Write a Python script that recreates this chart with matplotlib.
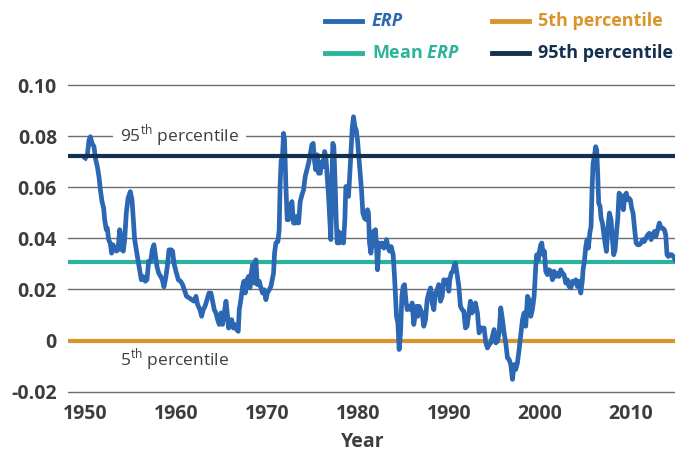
import matplotlib
matplotlib.use("Agg")
import matplotlib.pyplot as plt
from matplotlib.lines import Line2D

# ERP series (x in years, y as a fraction)
years = [
    1950.04, 1950.26, 1950.44, 1950.59, 1950.77, 1950.99, 1951.14, 1951.36, 1951.54, 1951.69,
    1951.87, 1952.05, 1952.16, 1952.34, 1952.45, 1952.60, 1952.78, 1952.93, 1953.08, 1953.26,
    1953.44, 1953.63, 1953.81, 1953.92, 1954.07, 1954.21, 1954.36, 1954.54, 1954.73, 1954.98,
    1955.17, 1955.31, 1955.46, 1955.64, 1955.82, 1956.01, 1956.19, 1956.37, 1956.63, 1956.81,
    1957.00, 1957.22, 1957.40, 1957.58, 1957.73, 1957.91, 1958.10, 1958.32, 1958.50, 1958.68,
    1958.87, 1959.05, 1959.23, 1959.49,
    1959.63, 1959.78, 1960.00, 1960.26, 1960.51, 1960.73, 1960.92, 1961.17, 1961.47, 1961.72,
    1961.98, 1962.20, 1962.38, 1962.64, 1962.82, 1963.00, 1963.19, 1963.37, 1963.63, 1963.85,
    1964.03, 1964.21, 1964.40, 1964.58, 1964.76, 1964.95, 1965.13, 1965.31, 1965.50, 1965.64,
    1965.79, 1965.93, 1966.12, 1966.30, 1966.48, 1966.67, 1966.85, 1966.96, 1967.14, 1967.33,
    1967.47, 1967.62, 1967.80, 1967.99, 1968.13, 1968.28, 1968.43, 1968.57, 1968.72, 1968.79,
    1968.94, 1969.16, 1969.34, 1969.52, 1969.71, 1969.89, 1970.04, 1970.26, 1970.44,
    1970.73, 1970.84, 1970.99, 1971.21, 1971.35, 1971.46, 1971.57, 1971.68, 1971.83, 1971.94,
    1972.09, 1972.23, 1972.38, 1972.56, 1972.75, 1972.93, 1973.11, 1973.30, 1973.48, 1973.66,
    1973.85, 1974.03, 1974.21, 1974.40, 1974.58, 1974.76, 1974.94, 1975.09, 1975.24, 1975.38,
    1975.53, 1975.68, 1975.86, 1976.04, 1976.19, 1976.34, 1976.48, 1976.63, 1976.78, 1976.92,
    1977.03, 1977.14, 1977.25, 1977.36, 1977.51, 1977.62, 1977.73, 1977.88, 1977.99, 1978.13,
    1978.28, 1978.42, 1978.57, 1978.68, 1978.83, 1978.97, 1979.12, 1979.27, 1979.38, 1979.52,
    1979.67, 1979.82, 1979.96, 1980.11, 1980.26, 1980.40, 1980.55, 1980.73, 1980.92, 1981.06,
    1981.17, 1981.28, 1981.43, 1981.58, 1981.72,
    1981.94, 1982.05, 1982.16, 1982.31, 1982.49, 1982.67, 1982.86, 1983.04, 1983.15, 1983.30,
    1983.48, 1983.66, 1983.88, 1984.03, 1984.14, 1984.25, 1984.40, 1984.54, 1984.69, 1984.84,
    1984.98, 1985.13, 1985.27, 1985.42, 1985.60, 1985.79, 1985.97, 1986.15, 1986.34, 1986.45,
    1986.59, 1986.74, 1986.89, 1987.07, 1987.25, 1987.44, 1987.62, 1987.80, 1987.99, 1988.17,
    1988.35, 1988.53, 1988.72, 1988.90, 1989.08, 1989.27, 1989.45, 1989.63, 1989.82, 1990.00,
    1990.11, 1990.26, 1990.44, 1990.62, 1990.73, 1990.92, 1991.10, 1991.28, 1991.47, 1991.65,
    1991.83, 1992.01, 1992.20, 1992.38, 1992.56, 1992.75, 1992.93,
    1993.15, 1993.33, 1993.52, 1993.70, 1993.88, 1994.07, 1994.25, 1994.43, 1994.62, 1994.80,
    1994.98, 1995.17, 1995.35, 1995.53, 1995.71, 1995.90, 1996.08, 1996.26, 1996.45, 1996.63,
    1996.81, 1997.00, 1997.18, 1997.36, 1997.55, 1997.73, 1997.91, 1998.10, 1998.28, 1998.46,
    1998.65, 1998.83, 1999.01, 1999.19, 1999.38, 1999.56, 1999.67, 1999.82, 1999.93, 2000.11,
    2000.22, 2000.37, 2000.51, 2000.66, 2000.84, 2001.03, 2001.21, 2001.39, 2001.58, 2001.76,
    2001.94, 2002.13, 2002.31, 2002.49, 2002.67, 2002.86, 2003.04, 2003.22, 2003.41, 2003.59,
    2003.77, 2003.96, 2004.14, 2004.32, 2004.51, 2004.69,
    2004.76, 2004.91, 2005.06, 2005.20, 2005.35, 2005.50, 2005.64, 2005.75, 2005.86, 2006.01,
    2006.15, 2006.26, 2006.37, 2006.48, 2006.63, 2006.74, 2006.89, 2007.03, 2007.18, 2007.33,
    2007.47, 2007.66, 2007.84, 2007.99, 2008.13, 2008.28, 2008.43, 2008.57, 2008.72, 2008.87,
    2009.01, 2009.19, 2009.38, 2009.52, 2009.67, 2009.82, 2009.96, 2010.11, 2010.26, 2010.40,
    2010.59, 2010.77, 2010.95, 2011.14, 2011.32, 2011.50, 2011.69, 2011.87, 2012.05, 2012.24,
    2012.42, 2012.60, 2012.78, 2012.97, 2013.15, 2013.33, 2013.52, 2013.70, 2013.85, 2013.99,
    2014.14, 2014.32, 2014.51, 2014.69, 2014.87,
]
erp = [
    0.0714, 0.0727, 0.0785, 0.0798, 0.0772, 0.0759, 0.0714, 0.0680, 0.0640, 0.0590,
    0.0544, 0.0518, 0.0473, 0.0434, 0.0440, 0.0395, 0.0380, 0.0342, 0.0375, 0.0362,
    0.0350, 0.0355, 0.0434, 0.0414, 0.0355, 0.0350, 0.0395, 0.0499, 0.0557, 0.0583,
    0.0550, 0.0473, 0.0395, 0.0355, 0.0316, 0.0277, 0.0238, 0.0251, 0.0232, 0.0238,
    0.0310, 0.0310, 0.0355, 0.0375, 0.0336, 0.0290, 0.0264, 0.0251, 0.0238, 0.0210,
    0.0245, 0.0290, 0.0355, 0.0355,
    0.0350, 0.0303, 0.0271, 0.0238, 0.0232, 0.0219, 0.0199, 0.0173, 0.0167, 0.0160,
    0.0154, 0.0173, 0.0141, 0.0121, 0.0095, 0.0121, 0.0134, 0.0154, 0.0186, 0.0186,
    0.0154, 0.0121, 0.0108, 0.0082, 0.0063, 0.0108, 0.0063, 0.0108, 0.0154, 0.0108,
    0.0049, 0.0076, 0.0082, 0.0049, 0.0063, 0.0043, 0.0036, 0.0121, 0.0160, 0.0212,
    0.0232, 0.0186, 0.0238, 0.0251, 0.0206, 0.0264, 0.0297, 0.0225, 0.0310, 0.0316,
    0.0219, 0.0232, 0.0206, 0.0186, 0.0199, 0.0160, 0.0186, 0.0199, 0.0212,
    0.0264, 0.0342, 0.0382, 0.0388, 0.0434, 0.0616, 0.0707, 0.0694, 0.0811, 0.0785,
    0.0603, 0.0473, 0.0473, 0.0518, 0.0544, 0.0460, 0.0460, 0.0486, 0.0460, 0.0544,
    0.0570, 0.0590, 0.0642, 0.0668, 0.0694, 0.0727, 0.0766, 0.0772, 0.0700, 0.0668,
    0.0727, 0.0655, 0.0655, 0.0700, 0.0681, 0.0740, 0.0720, 0.0642, 0.0564, 0.0473,
    0.0395, 0.0629, 0.0772, 0.0759, 0.0603, 0.0473, 0.0382, 0.0427, 0.0382, 0.0420,
    0.0395, 0.0382, 0.0473, 0.0603, 0.0590, 0.0564, 0.0655, 0.0759, 0.0831, 0.0876,
    0.0837, 0.0824, 0.0785, 0.0720, 0.0655, 0.0590, 0.0499, 0.0479, 0.0473, 0.0512,
    0.0499, 0.0382, 0.0342, 0.0382, 0.0427,
    0.0434, 0.0368, 0.0277, 0.0382, 0.0368, 0.0382, 0.0362, 0.0368, 0.0395, 0.0368,
    0.0350, 0.0368, 0.0336, 0.0251, 0.0173, 0.0095, 0.0069, -0.0035, 0.0030, 0.0173,
    0.0212, 0.0219, 0.0160, 0.0121, 0.0134, 0.0121, 0.0147, 0.0063, 0.0108, 0.0134,
    0.0095, 0.0134, 0.0121, 0.0108, 0.0056, 0.0082, 0.0160, 0.0186, 0.0206, 0.0147,
    0.0121, 0.0186, 0.0199, 0.0219, 0.0154, 0.0173, 0.0238, 0.0232, 0.0238, 0.0193,
    0.0238, 0.0264, 0.0271, 0.0297, 0.0303, 0.0258, 0.0212, 0.0134, 0.0121, 0.0115,
    0.0049, 0.0056, 0.0108, 0.0154, 0.0108, 0.0121, 0.0147,
    0.0108, 0.0030, 0.0049, 0.0049, 0.0049, -0.0009, -0.0029, -0.0016, -0.0009, 0.0017,
    0.0043, -0.0009, -0.0003, 0.0030, 0.0128, 0.0082, 0.0030, -0.0009, -0.0068, -0.0074,
    -0.0094, -0.0152, -0.0094, -0.0113, -0.0087, -0.0035, 0.0023, 0.0082, 0.0108, 0.0056,
    0.0173, 0.0160, 0.0095, 0.0121, 0.0173, 0.0290, 0.0336, 0.0316, 0.0342, 0.0375,
    0.0382, 0.0336, 0.0350, 0.0271, 0.0258, 0.0277, 0.0271, 0.0238, 0.0271, 0.0251,
    0.0264, 0.0251, 0.0277, 0.0264, 0.0258, 0.0225, 0.0238, 0.0212, 0.0206, 0.0232,
    0.0225, 0.0238, 0.0212, 0.0232, 0.0186, 0.0238,
    0.0277, 0.0310, 0.0368, 0.0395, 0.0362, 0.0420, 0.0447, 0.0590, 0.0694, 0.0720,
    0.0759, 0.0746, 0.0655, 0.0538, 0.0525, 0.0479, 0.0460, 0.0420, 0.0382, 0.0349,
    0.0434, 0.0499, 0.0473, 0.0395, 0.0336, 0.0355, 0.0420, 0.0473, 0.0577, 0.0570,
    0.0551, 0.0512, 0.0570, 0.0577, 0.0551, 0.0557, 0.0551, 0.0518, 0.0499, 0.0447,
    0.0382, 0.0375, 0.0375, 0.0382, 0.0395, 0.0388, 0.0401, 0.0414, 0.0420, 0.0395,
    0.0408, 0.0427, 0.0408, 0.0434, 0.0460, 0.0440, 0.0440, 0.0434, 0.0414, 0.0336,
    0.0329, 0.0336, 0.0336, 0.0329, 0.0316,
]

mean_erp = 0.0308
p5 = 0.0
p95 = 0.0722

year_ticks = [1950, 1960, 1970, 1980, 1990, 2000, 2010]
y_ticks = [-0.02, 0, 0.02, 0.04, 0.06, 0.08, 0.10]
y_labels = ["-0.02", "0", "0.02", "0.04", "0.06", "0.08", "0.10"]

C_ERP = "#2b67b3"
C_MEAN = "#2bb39b"
C_P5 = "#d9952c"
C_P95 = "#13304f"
C_TEXT = "#3d3d3d"

plt.rcParams["font.family"] = ["Open Sans", "DejaVu Sans"]
plt.rcParams["mathtext.fontset"] = "custom"
plt.rcParams["mathtext.rm"] = "Open Sans"
plt.rcParams["mathtext.it"] = "Open Sans:italic:bold"

fig = plt.figure(figsize=(6.89, 4.53), dpi=100)
ax = fig.add_axes([68 / 689, 0.1298, 607 / 689, 0.688])

for t in y_ticks:
    ax.axhline(t, color="#6e6e6e", lw=1.0, zorder=1)

ax.axhline(mean_erp, color=C_MEAN, lw=3.0, zorder=2)
ax.axhline(p5, color=C_P5, lw=3.0, zorder=2)
ax.plot(years, erp, color=C_ERP, lw=3.4, zorder=3, solid_joinstyle="round")
ax.axhline(p95, color=C_P95, lw=3.0, zorder=5)

ax.set_xlim(1948.13, 2014.87)
ax.set_ylim(-0.021, 0.101)
ax.set_xticks(year_ticks)
ax.set_yticks(y_ticks)
ax.set_yticklabels(y_labels)
ax.tick_params(length=0, labelsize=14, labelcolor=C_TEXT)
ax.tick_params(axis="y", pad=8)
ax.tick_params(axis="x", pad=7)
for lab in ax.get_xticklabels() + ax.get_yticklabels():
    lab.set_fontweight("bold")
for s in ax.spines.values():
    s.set_visible(False)

ax.set_xlabel("Year", fontsize=14, fontweight="bold", color=C_TEXT)
ax.xaxis.set_label_coords(0.485, -0.122)

ax.text(1953.85, 0.08, r"95$^{\mathrm{th}}$ percentile", fontsize=12.5, color=C_TEXT,
        ha="left", va="center", zorder=4,
        bbox=dict(boxstyle="square,pad=0.4", fc="white", ec="none"))
ax.text(1953.85, -0.0076, r"5$^{\mathrm{th}}$ percentile", fontsize=12.5, color=C_TEXT,
        ha="left", va="center", zorder=4)

# legend drawn by hand, two columns
W, H = 689, 453
entries = [
    (325, 372, 21, C_ERP, "ERP", "italic"),
    (492, 538, 21, C_P5, "5th percentile", "normal"),
    (325, 372, 53, C_MEAN, r"Mean $\mathit{ERP}$", "normal"),
    (492, 538, 53, C_P95, "95th percentile", "normal"),
]
for x0, xt, yy, col, label, style in entries:
    fy = 1 - yy / H
    fig.add_artist(Line2D([x0 / W, (x0 + 37) / W], [fy, fy], color=col, lw=3.5,
                          transform=fig.transFigure))
    fig.text(xt / W, fy, label, color=col, fontsize=13, fontweight="bold",
             fontstyle=style, ha="left", va="center")

fig.savefig("out.png", dpi=100)
